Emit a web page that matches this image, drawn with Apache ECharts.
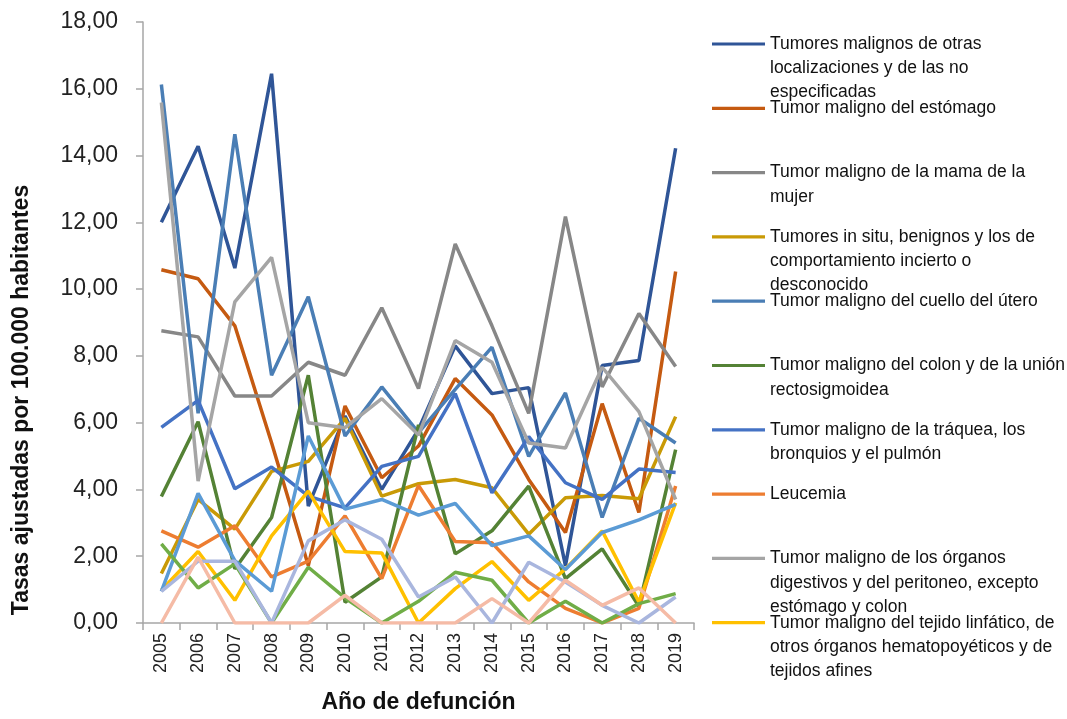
<!DOCTYPE html>
<html>
<head>
<meta charset="utf-8">
<script src="https://cdn.jsdelivr.net/npm/echarts@6/dist/echarts.min.js"></script>
<style>
html,body{margin:0;padding:0;background:#fff;}
#chart{width:1067px;height:719px;}
</style>
</head>
<body>
<div id="chart"></div>
<script>
var years = ['2005','2006','2007','2008','2009','2010','2011','2012','2013','2014','2015','2016','2017','2018','2019'];
var yTicks = [0, 2, 4, 6, 8, 10, 12, 14, 16, 18];

var otrasLocalizaciones = [12.00, 14.28, 10.63, 16.45, 3.50, 6.20, 4.00, 5.80, 8.30, 6.87, 7.05, 1.72, 7.71, 7.86, 14.22];
var estomago = [10.58, 10.31, 8.90, 5.40, 1.72, 6.50, 4.35, 5.30, 7.32, 6.23, 4.30, 2.71, 6.57, 3.31, 10.53];
var mamaMujer = [8.75, 8.57, 6.80, 6.80, 7.81, 7.42, 9.44, 7.02, 11.35, 8.90, 6.28, 12.17, 7.07, 9.27, 7.68];
var inSitu = [1.48, 3.70, 2.81, 4.54, 4.84, 6.13, 3.80, 4.17, 4.30, 4.05, 2.66, 3.75, 3.82, 3.72, 6.18];
var cuelloUtero = [16.13, 6.28, 14.64, 7.42, 9.77, 5.60, 7.07, 5.70, 7.00, 8.26, 4.99, 6.89, 3.16, 6.13, 5.39];
var colon = [3.79, 6.03, 1.62, 3.16, 7.42, 0.62, 1.38, 5.93, 2.07, 2.76, 4.10, 1.33, 2.22, 0.50, 5.19];
var traquea = [5.86, 6.67, 4.02, 4.67, 3.80, 3.45, 4.69, 4.99, 6.87, 3.90, 5.58, 4.20, 3.70, 4.61, 4.51];
var leucemia = [2.76, 2.27, 2.91, 1.38, 1.85, 3.21, 1.33, 4.12, 2.44, 2.40, 1.23, 0.44, 0.00, 0.44, 4.10];
var digestivos = [15.59, 4.25, 9.62, 10.95, 6.00, 5.85, 6.72, 5.63, 8.46, 7.81, 5.39, 5.24, 7.66, 6.33, 3.70];
var linfatico = [0.98, 2.14, 0.68, 2.61, 3.95, 2.14, 2.10, 0.00, 1.03, 1.84, 0.68, 1.62, 2.76, 0.63, 3.60];
var serie11 = [0.95, 3.88, 1.87, 0.95, 5.60, 3.41, 3.70, 3.23, 3.58, 2.32, 2.61, 1.60, 2.71, 3.09, 3.55];
var serie12 = [2.37, 1.05, 1.77, 0.00, 1.67, 0.75, 0.00, 0.65, 1.52, 1.28, 0.00, 0.65, 0.00, 0.58, 0.88];
var serie13 = [0.95, 1.85, 1.85, 0.00, 2.46, 3.09, 2.51, 0.78, 1.38, 0.00, 1.82, 1.23, 0.53, 0.00, 0.78];
var serie14 = [0.00, 1.97, 0.00, 0.00, 0.00, 0.83, 0.00, 0.00, 0.00, 0.73, 0.00, 1.28, 0.53, 1.05, 0.00];

var seriesNames = [
  'Tumores malignos de otras localizaciones y de las no especificadas',
  'Tumor maligno del estómago',
  'Tumor maligno de la mama de la mujer',
  'Tumores in situ, benignos y los de comportamiento incierto o desconocido',
  'Tumor maligno del cuello del útero',
  'Tumor maligno del colon y de la unión rectosigmoidea',
  'Tumor maligno de la tráquea, los bronquios y el pulmón',
  'Leucemia',
  'Tumor maligno de los órganos digestivos y del peritoneo, excepto estómago y colon',
  'Tumor maligno del tejido linfático, de otros órganos hematopoyéticos y de tejidos afines',
  'Serie 11',
  'Serie 12',
  'Serie 13',
  'Serie 14'
];
var legendLabels = [
  'Tumores malignos de otras\nlocalizaciones y de las no\nespecificadas',
  'Tumor maligno del estómago',
  'Tumor maligno de la mama de la\nmujer',
  'Tumores in situ, benignos y los de\ncomportamiento incierto o\ndesconocido',
  'Tumor maligno del cuello del útero',
  'Tumor maligno del colon y de la unión\nrectosigmoidea',
  'Tumor maligno de la tráquea, los\nbronquios y el pulmón',
  'Leucemia',
  'Tumor maligno de los órganos\ndigestivos y del peritoneo, excepto\nestómago y colon',
  'Tumor maligno del tejido linfático, de\notros órganos hematopoyéticos y de\ntejidos afines'
];
var seriesData = [otrasLocalizaciones, estomago, mamaMujer, inSitu, cuelloUtero, colon, traquea, leucemia, digestivos, linfatico, serie11, serie12, serie13, serie14];
var colors = ['#2F5597', '#C55A11', '#878787', '#C99A06', '#4A7EB5', '#548235', '#4472C4', '#ED7D31', '#A5A5A5', '#FFC000', '#5B9BD5', '#70AD47', '#A9B6DE', '#F5BBA6'];

var FONT = 'Liberation Sans, Arial, sans-serif';
var LH = 24.3;
var legendTop0 = 44, legendStep = 64.3;

var series = seriesData.map(function (d, i) {
  return {
    name: seriesNames[i],
    type: 'line',
    data: d,
    symbol: 'none',
    smooth: false,
    lineStyle: { width: 3.5, color: colors[i] },
    itemStyle: { color: colors[i] },
    emphasis: { disabled: true }
  };
});

var legends = legendLabels.map(function (lab, i) {
  var n = lab.split('\n').length;
  var yc = legendTop0 + i * legendStep;
  var H = (2 * n - 1) * LH;
  var txt = new Array(n).join(' \n') + lab;
  return {
    orient: 'vertical',
    left: 712,
    top: yc - H / 2,
    padding: 0,
    icon: 'rect',
    itemWidth: 53,
    itemHeight: 3.2,
    itemGap: 0,
    selectedMode: false,
    data: [seriesNames[i]],
    formatter: function () { return txt; },
    textStyle: {
      fontFamily: FONT,
      fontSize: 17.5,
      color: '#111',
      lineHeight: LH
    }
  };
});

var chart = echarts.init(document.getElementById('chart'), null, { renderer: 'canvas' });
chart.setOption({
  animation: false,
  backgroundColor: '#fff',
  color: colors,
  grid: { left: 143, top: 22, right: 373, bottom: 91, containLabel: false },
  legend: legends,
  xAxis: {
    type: 'category',
    data: years,
    boundaryGap: true,
    name: 'Año de defunción',
    nameLocation: 'middle',
    nameGap: 68,
    nameTextStyle: { fontFamily: FONT, fontSize: 23, fontWeight: 'bold', color: '#111' },
    axisLine: { show: true, lineStyle: { color: '#A6A6A6', width: 1.5 } },
    axisTick: { show: true, alignWithLabel: false, length: 7, lineStyle: { color: '#A6A6A6', width: 1.5 } },
    axisLabel: { rotate: 90, margin: 10, fontFamily: FONT, fontSize: 18, color: '#222', interval: 0 },
    splitLine: { show: false }
  },
  yAxis: {
    type: 'value',
    min: yTicks[0],
    max: yTicks[yTicks.length - 1],
    interval: 2,
    axisLine: { show: true, lineStyle: { color: '#A6A6A6', width: 1.5 } },
    axisTick: { show: true, length: 7, lineStyle: { color: '#A6A6A6', width: 1.5 } },
    axisLabel: {
      margin: 25,
      fontFamily: FONT,
      fontSize: 23,
      color: '#222',
      formatter: function (v) { return v.toFixed(2).replace('.', ','); }
    },
    splitLine: { show: false }
  },
  graphic: [{
    type: 'text',
    x: 22,
    y: 400,
    rotation: Math.PI / 2,
    style: {
      text: 'Tasas ajustadas por 100.000 habitantes',
      fontFamily: FONT,
      fontSize: 23,
      fontWeight: 'bold',
      fill: '#111',
      align: 'center',
      verticalAlign: 'middle'
    }
  }],
  series: series
});
</script>
</body>
</html>
